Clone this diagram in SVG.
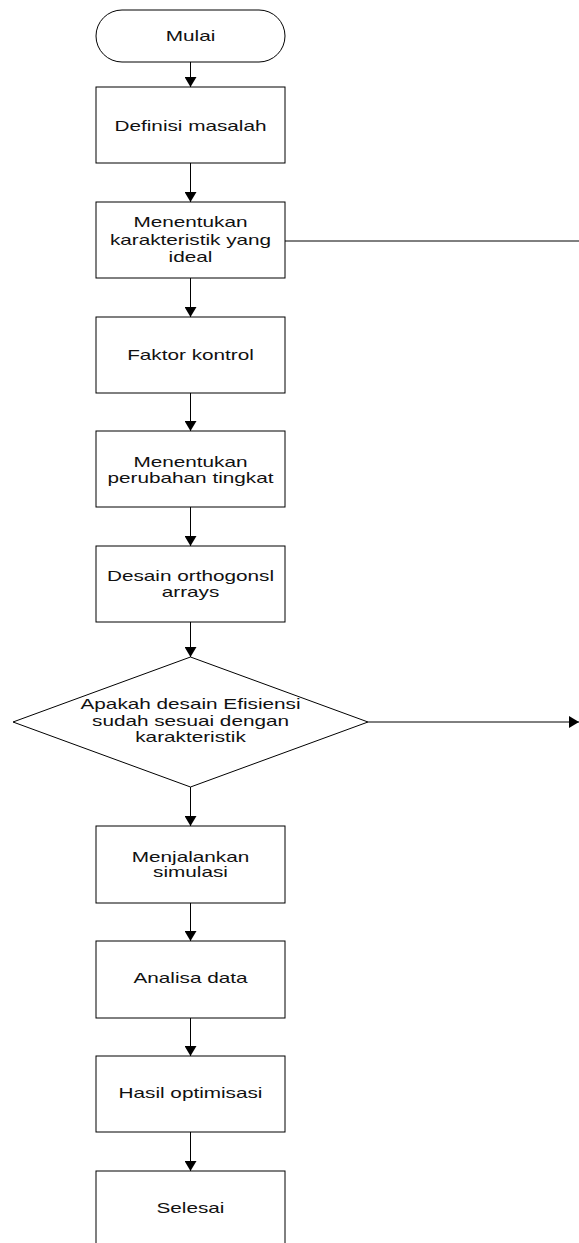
<svg xmlns="http://www.w3.org/2000/svg" width="579" height="1243" viewBox="0 0 579 1243">
<style>
.s{fill:#fff;stroke:#000;stroke-width:1}
.c{fill:none;stroke:#000;stroke-width:1}
text{font-family:"Liberation Sans",Arial,sans-serif;font-size:14.5px;fill:#111;text-anchor:middle}
</style>
<defs>
<marker id="ah" markerUnits="userSpaceOnUse" markerWidth="10" markerHeight="12" viewBox="0 0 10 12" refX="10" refY="6" orient="auto">
<path d="M0,0 L10,6 L0,12 z" fill="#000"/>
</marker>
</defs>
<g id="connectors">
<line class="c" x1="190.5" y1="62" x2="190.5" y2="87" marker-end="url(#ah)"/>
<line class="c" x1="190.5" y1="163" x2="190.5" y2="202" marker-end="url(#ah)"/>
<line class="c" x1="190.5" y1="278" x2="190.5" y2="317" marker-end="url(#ah)"/>
<line class="c" x1="285" y1="241" x2="579" y2="241"/>
<line class="c" x1="190.5" y1="393" x2="190.5" y2="431" marker-end="url(#ah)"/>
<line class="c" x1="190.5" y1="507" x2="190.5" y2="546" marker-end="url(#ah)"/>
<line class="c" x1="190.5" y1="622" x2="190.5" y2="657" marker-end="url(#ah)"/>
<line class="c" x1="368" y1="722" x2="579" y2="722" marker-end="url(#ah)"/>
<line class="c" x1="190.5" y1="787" x2="190.5" y2="826" marker-end="url(#ah)"/>
<line class="c" x1="190.5" y1="903" x2="190.5" y2="941" marker-end="url(#ah)"/>
<line class="c" x1="190.5" y1="1018" x2="190.5" y2="1056" marker-end="url(#ah)"/>
<line class="c" x1="190.5" y1="1132" x2="190.5" y2="1171" marker-end="url(#ah)"/>
</g>
<g id="mulai">
<rect class="s" x="96" y="10" width="189" height="52" rx="26" ry="26"/>
<text transform="translate(190.5 0) scale(1.43 1)" x="0" y="41">Mulai</text>
</g>
<g id="definisi">
<rect class="s" x="96" y="87" width="189" height="76"/>
<text transform="translate(190.5 0) scale(1.43 1)" x="0" y="131">Definisi masalah</text>
</g>
<g id="karakteristik">
<rect class="s" x="96" y="202" width="189" height="76"/>
<text transform="translate(190.5 0) scale(1.43 1)" x="0" y="227">Menentukan</text>
<text transform="translate(190.5 0) scale(1.43 1)" x="0" y="245">karakteristik yang</text>
<text transform="translate(190.5 0) scale(1.43 1)" x="0" y="262">ideal</text>
</g>
<g id="faktor">
<rect class="s" x="96" y="317" width="189" height="76"/>
<text transform="translate(190.5 0) scale(1.43 1)" x="0" y="360">Faktor kontrol</text>
</g>
<g id="perubahan">
<rect class="s" x="96" y="431" width="189" height="76"/>
<text transform="translate(190.5 0) scale(1.43 1)" x="0" y="467">Menentukan</text>
<text transform="translate(190.5 0) scale(1.43 1)" x="0" y="483">perubahan tingkat</text>
</g>
<g id="desain">
<rect class="s" x="96" y="546" width="189" height="76"/>
<text transform="translate(190.5 0) scale(1.43 1)" x="0" y="581">Desain orthogonsl</text>
<text transform="translate(190.5 0) scale(1.43 1)" x="0" y="597">arrays</text>
</g>
<g id="keputusan">
<polygon class="s" points="190.5,657 368,722 190.5,787 13,722"/>
<text transform="translate(190.5 0) scale(1.43 1)" x="0" y="709">Apakah desain Efisiensi</text>
<text transform="translate(190.5 0) scale(1.43 1)" x="0" y="726">sudah sesuai dengan</text>
<text transform="translate(190.5 0) scale(1.43 1)" x="0" y="742">karakteristik</text>
</g>
<g id="simulasi">
<rect class="s" x="96" y="826" width="189" height="77"/>
<text transform="translate(190.5 0) scale(1.43 1)" x="0" y="862">Menjalankan</text>
<text transform="translate(190.5 0) scale(1.43 1)" x="0" y="877">simulasi</text>
</g>
<g id="analisa">
<rect class="s" x="96" y="941" width="189" height="77"/>
<text transform="translate(190.5 0) scale(1.43 1)" x="0" y="983">Analisa data</text>
</g>
<g id="hasil">
<rect class="s" x="96" y="1056" width="189" height="76"/>
<text transform="translate(190.5 0) scale(1.43 1)" x="0" y="1098">Hasil optimisasi</text>
</g>
<g id="selesai">
<rect class="s" x="96" y="1171" width="189" height="80"/>
<text transform="translate(190.5 0) scale(1.43 1)" x="0" y="1213">Selesai</text>
</g>
</svg>
